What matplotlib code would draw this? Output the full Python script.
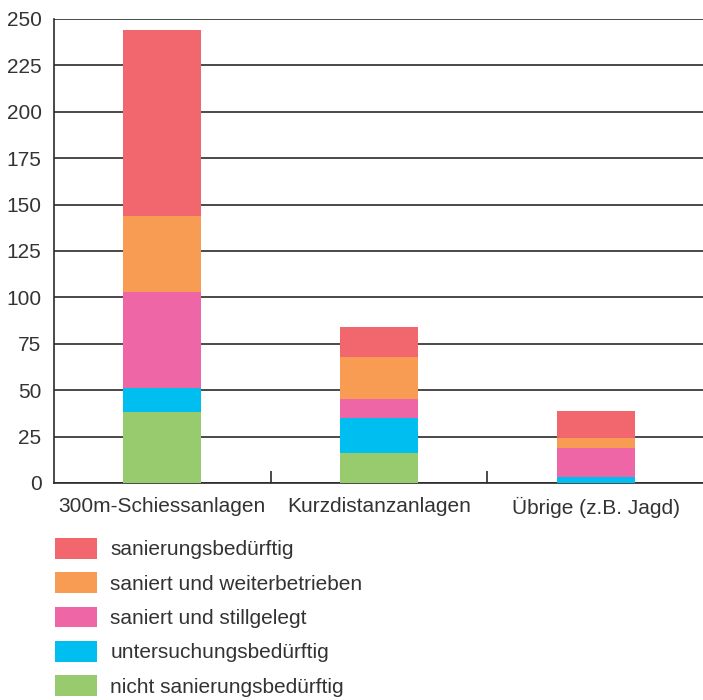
import numpy as np
import matplotlib.pyplot as plt
from matplotlib.patches import Patch

plt.rcParams['font.family'] = ['Liberation Sans', 'DejaVu Sans']

# Daten
kategorien = ['300m-Schiessanlagen', 'Kurzdistanzanlagen', 'Übrige (z.B. Jagd)']
nicht_sanierungsbeduerftig = [38, 16, 0]
untersuchungsbeduerftig = [13, 19, 3]
saniert_stillgelegt = [52, 10, 16]
saniert_weiterbetrieben = [41, 23, 5]
sanierungsbeduerftig = [100, 16, 15]

serien = [
    ('nicht sanierungsbedürftig', nicht_sanierungsbeduerftig, '#97cb6d'),
    ('untersuchungsbedürftig', untersuchungsbeduerftig, '#00bef0'),
    ('saniert und stillgelegt', saniert_stillgelegt, '#ef66a6'),
    ('saniert und weiterbetrieben', saniert_weiterbetrieben, '#f89c53'),
    ('sanierungsbedürftig', sanierungsbeduerftig, '#f2666e'),
]

textfarbe = '#333333'

fig = plt.figure(figsize=(7.03, 7.00), dpi=100)
ax = fig.add_axes([54 / 703, 217 / 700, 650 / 703, 464 / 700])

x = np.arange(len(kategorien))
unten = np.zeros(len(kategorien))
for name, werte, farbe in serien:
    ax.bar(x, werte, width=0.36, bottom=unten, color=farbe, zorder=3)
    unten += np.array(werte)

ax.set_xlim(-0.5, 2.5)
ax.set_ylim(0, 250)
ax.set_yticks(range(0, 251, 25))
ax.yaxis.grid(True, color='#2b2b2b', linewidth=1.2, zorder=1)
ax.set_axisbelow(True)

ax.set_xticks(x)
ax.set_xticklabels(kategorien)
ax.set_xticks([0.5, 1.5], minor=True)
ax.tick_params(axis='x', which='major', length=0, pad=10, labelsize=15, labelcolor=textfarbe)
ax.tick_params(axis='x', which='minor', direction='in', length=8.5, width=1.2, color='#2b2b2b')
ax.tick_params(axis='y', length=0, pad=9, labelsize=15, labelcolor=textfarbe)

for s in ['top', 'right']:
    ax.spines[s].set_visible(False)
for s in ['left', 'bottom']:
    ax.spines[s].set_color('#2b2b2b')
    ax.spines[s].set_linewidth(1.2)

handles = [Patch(facecolor=f, label=n) for n, w, f in serien[::-1]]
fig.legend(handles=handles, loc='upper left', bbox_to_anchor=(55 / 703, 1 - 538 / 700),
           frameon=False, fontsize=15, labelcolor=textfarbe, handlelength=2.0,
           handleheight=1.15, handletextpad=0.65, labelspacing=0.62, borderpad=0,
           borderaxespad=0)

fig.savefig('out.png', dpi=100)
